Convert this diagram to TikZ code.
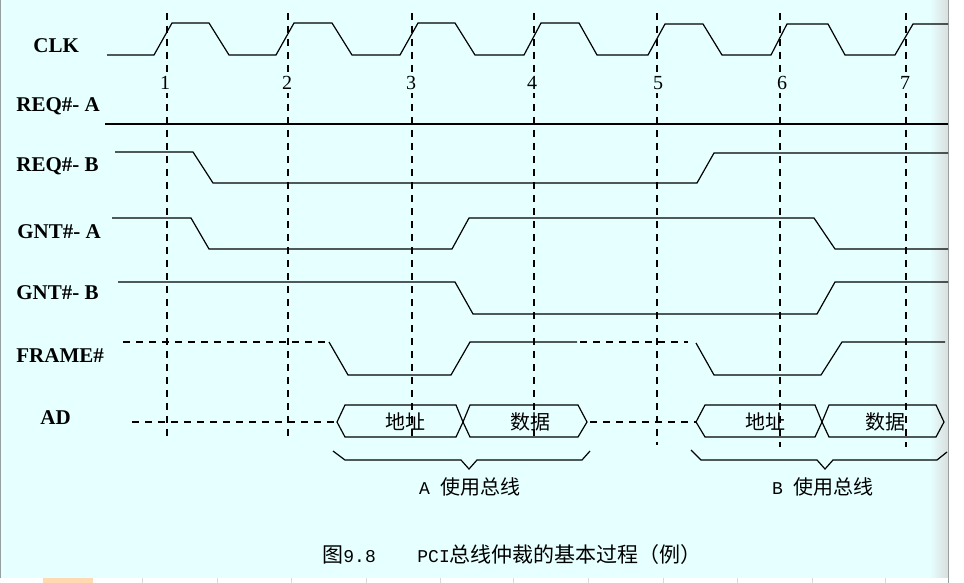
\documentclass[tikz,border=0pt]{standalone}
\usepackage{fontspec}
\setmainfont{Liberation Serif}
\newfontfamily\cjk{Noto Sans CJK SC}
\newfontfamily\halfw{Liberation Mono}
\usetikzlibrary{calc}

\definecolor{bgcyan}{RGB}{230,255,255}
\definecolor{edgegray}{RGB}{150,160,160}

\begin{document}
\begin{tikzpicture}[x=0.5pt,y=-0.5pt,
    sig/.style={line width=0.6pt},
    clkline/.style={line width=0.6pt, dash pattern=on 3.5pt off 3pt},
    lbl/.style={font=\bfseries\fontsize{10.5}{12}\selectfont, anchor=west, inner sep=0pt},
    num/.style={font=\fontsize{10}{12}\selectfont, fill=bgcyan, inner sep=1.5pt},
    hanzi/.style={font=\cjk\fontsize{10}{12}\selectfont, inner sep=0pt}]
        % 背景
        \useasboundingbox (0,0) rectangle (964,583);
        \fill[bgcyan] (0,0) rectangle (948,578);
        \shade[left color=bgcyan, right color=edgegray!35] (930,0) rectangle (948,578);
        \fill[white] (0,578) rectangle (964,583);
        \fill[white] (949,0) rectangle (964,583);
        \draw[edgegray, line width=0.8pt] (948.5,0) -- (948.5,583);
        \draw[edgegray, line width=0.6pt] (0.5,0) -- (0.5,578);
        \fill[orange!30] (43,578) rectangle (93,583);
        \draw[gray!30] (142,578) -- (142,583) (217,578) -- (217,583) (291,578) -- (291,583)
            (366,578) -- (366,583) (440,578) -- (440,583) (513,578) -- (513,583)
            (588,578) -- (588,583) (663,578) -- (663,583) (737,578) -- (737,583)
            (812,578) -- (812,583) (885,578) -- (885,583);

        % 时钟沿虚线
        \coordinate (T1) at (167,13);
        \coordinate (T2) at (288,13);
        \coordinate (T3) at (412,13);
        \coordinate (T4) at (534,13);
        \coordinate (T5) at (657,13);
        \coordinate (T6) at (780,13);
        \coordinate (T7) at (906,13);
        \draw[clkline] (T1) -- (167,437);
        \draw[clkline] (T2) -- (288,437);
        \draw[clkline] (T3) -- (412,438);
        \draw[clkline] (T4) -- (534,438);
        \draw[clkline] (T5) -- (657,445);
        \draw[clkline] (T6) -- (780,447);
        \draw[clkline] (T7) -- (906,447);

        % 时钟编号
        \node[num] (n1) at (165,83) {1};
        \node[num] (n2) at (287,83) {2};
        \node[num] (n3) at (411,83) {3};
        \node[num] (n4) at (532,83) {4};
        \node[num] (n5) at (658,83) {5};
        \node[num] (n6) at (782,83) {6};
        \node[num] (n7) at (905,83) {7};

        % 信号名
        \node[lbl] (clk) at (33,46) {CLK};
        \node[lbl] (reqa) at (16,106) {REQ\#- A};
        \node[lbl] (reqb) at (16,166) {REQ\#- B};
        \node[lbl] (gnta) at (17,232) {GNT\#- A};
        \node[lbl] (gntb) at (16,293) {GNT\#- B};
        \node[lbl] (frame) at (16,356) {FRAME\#};
        \node[lbl] (ad) at (40,418) {AD};

        % CLK
        \draw[sig] (107,55) -- (154,55) -- (172,23) -- (209,23) -- (229,55) -- (276,55)
            -- (294,23) -- (332,23) -- (352,55) -- (400,55) -- (418,23) -- (455,23)
            -- (475,55) -- (524,55) -- (541,23) -- (579,23) -- (597,55) -- (648,55)
            -- (665,24) -- (703,24) -- (722,55) -- (771,55) -- (787,24) -- (828,24)
            -- (845,55) -- (895,55) -- (913,24) -- (948,24);

        % REQ#-A, REQ#-B
        \draw[sig] (105,124) -- (948,124);
        \draw[sig] (115,152) -- (193,152) -- (213,183) -- (697,183) -- (714,153) -- (948,153);

        % GNT#-A, GNT#-B
        \draw[sig] (112,218) -- (191,218) -- (209,249) -- (452,249) -- (469,218)
            -- (814,218) -- (835,249) -- (948,249);
        \draw[sig] (118,282) -- (455,282) -- (473,314) -- (817,314) -- (835,282) -- (948,282);

        % FRAME#
        \draw[clkline] (123,342) -- (325,342);
        \draw[sig] (329,342) -- (348,375) -- (451,375) -- (470,342) -- (577,342);
        \draw[clkline] (580,342) -- (688,342);
        \draw[sig] (696,343) -- (714,375) -- (821,375) -- (842,342) -- (945,342);

        % AD
        \draw[clkline] (132,422) -- (337,422);
        \draw[sig] (337,422) -- (345,405) -- (456,405) -- (463,422) -- (456,437) -- (345,437) -- cycle;
        \draw[sig] (463,422) -- (470,405) -- (578,405) -- (587,422) -- (578,437) -- (470,437) -- cycle;
        \draw[clkline] (590,422) -- (696,422);
        \draw[sig] (696,422) -- (705,405) -- (815,405) -- (822,422) -- (815,437) -- (705,437) -- cycle;
        \draw[sig] (822,422) -- (829,405) -- (936,405) -- (944,422) -- (936,437) -- (829,437) -- cycle;
        \node[hanzi] (addra) at (405,422) {地址};
        \node[hanzi] (dataa) at (530,422) {数据};
        \node[hanzi] (addrb) at (765,422) {地址};
        \node[hanzi] (datab) at (885,422) {数据};

        % 总线占用括号
        \draw[sig] (333,451) -- (345,460) -- (461,460) -- (469,469) -- (477,460) -- (582,460) -- (590,451);
        \draw[sig] (691,450) -- (701,460) -- (817,460) -- (825,469) -- (833,460) -- (937,460) -- (947,452);
        \node[hanzi] (usea) at (470,487) {{\halfw\fontsize{9}{12}\selectfont A }使用总线};
        \node[hanzi] (useb) at (823,487) {{\halfw\fontsize{9}{12}\selectfont B }使用总线};

        % 图题
        \node[hanzi, anchor=west, font=\cjk\fontsize{10.5}{12}\selectfont] (cap1) at (322,555)
            {图{\halfw\fontsize{9}{12}\selectfont 9.8}};
        \node[hanzi, anchor=west, font=\cjk\fontsize{10.5}{12}\selectfont] (cap2) at (417,555)
            {{\halfw\fontsize{9}{12}\selectfont PCI}总线仲裁的基本过程（例）};
\end{tikzpicture}
\end{document}
